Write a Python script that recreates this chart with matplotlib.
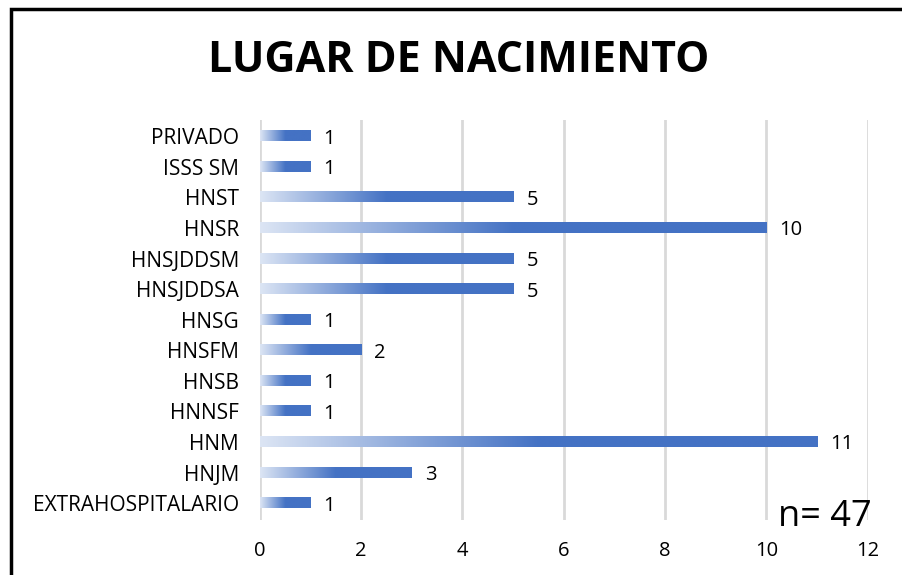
import numpy as np
import matplotlib
matplotlib.use("Agg")
import matplotlib.pyplot as plt
from matplotlib.colors import LinearSegmentedColormap
from matplotlib.patches import Rectangle

categories = ["EXTRAHOSPITALARIO", "HNJM", "HNM", "HNNSF", "HNSB", "HNSFM", "HNSG",
              "HNSJDDSA", "HNSJDDSM", "HNSR", "HNST", "ISSS SM", "PRIVADO"]
values = [1, 3, 11, 1, 1, 2, 1, 5, 5, 10, 5, 1, 1]
xticks = [0, 2, 4, 6, 8, 10, 12]
title = "LUGAR DE NACIMIENTO"
note = "n= 47"

plt.rcParams['font.family'] = ['Open Sans', 'DejaVu Sans']

fig = plt.figure(figsize=(9.02, 5.75), dpi=100)
ax = fig.add_axes([0.288, 0.0957, 0.674, 0.695])

cmap = LinearSegmentedColormap.from_list("g", ["#dce5f4", "#4472c4", "#4472c4"])
grad = np.linspace(0, 1, 256).reshape(1, -1)
h = 0.33
y = np.arange(len(categories))
for yi, v in zip(y, values):
    ax.imshow(grad, cmap=cmap, aspect='auto', extent=[0, v, yi - h/2, yi + h/2],
              interpolation='bilinear', zorder=3)
    ax.text(v + 0.26, yi - 0.08, str(v), va='center', ha='left', fontsize=14.5, color='#000000')

ax.set_xlim(0, 12)
ax.set_ylim(-0.55, 12.52)
ax.set_yticks(y)
ax.set_yticklabels(categories, fontsize=15)
ax.set_xticks(xticks)
ax.set_xticklabels([str(t) for t in xticks], fontsize=14.5)
ax.tick_params(axis='y', length=0, pad=15)
ax.tick_params(axis='x', length=0, pad=15)
ax.grid(axis='x', color='#d9d9d9', linewidth=2, zorder=0)
ax.set_axisbelow(True)
for s in ax.spines.values():
    s.set_visible(False)

fig.text(0.508, 0.895, title, ha='center', va='center', fontsize=31, fontweight='bold')
fig.text(0.915, 0.10, note, ha='center', va='center', fontsize=26)

fig.patches.append(Rectangle((11/902, -0.05), 1.0, 1 - 9/575 + 0.05, transform=fig.transFigure,
                             fill=False, edgecolor='black', linewidth=2.5))

fig.savefig("out.png", dpi=100)
